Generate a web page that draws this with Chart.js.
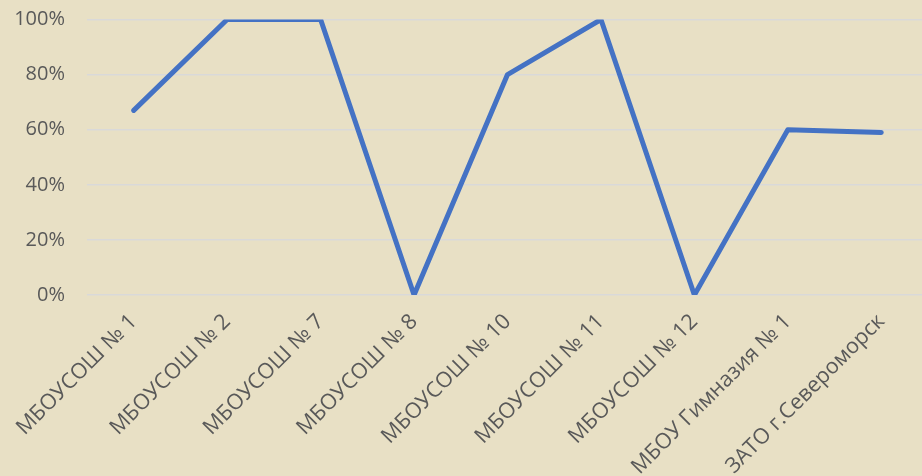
<!DOCTYPE html>
<html>
<head>
<meta charset="utf-8">
<script src="https://cdn.jsdelivr.net/npm/chart.js@4"></script>
<style>
  html, body { margin: 0; padding: 0; background: #E8E0C5; overflow: hidden; }
  #wrap { width: 928px; height: 476px; }
</style>
</head>
<body>
<div id="wrap"><canvas id="chart" width="928" height="476"></canvas></div>
<script>
const schools = [
  "МБОУСОШ № 1",
  "МБОУСОШ № 2",
  "МБОУСОШ № 7",
  "МБОУСОШ № 8",
  "МБОУСОШ № 10",
  "МБОУСОШ № 11",
  "МБОУСОШ № 12",
  "МБОУ Гимназия № 1",
  "ЗАТО г.Североморск",
];
const shares = [67, 100, 100, 0, 80, 100, 0, 60, 59];
const yTicks = [0, 20, 40, 60, 80, 100];

const textColor = "#595959";
const fontFamily = "Open Sans";

const ctx = document.getElementById("chart").getContext("2d");

new Chart(ctx, {
  type: "line",
  data: {
    labels: schools,
    datasets: [
      {
        data: shares,
        borderColor: "#4472C4",
        borderWidth: 5,
        borderCapStyle: "round",
        borderJoinStyle: "round",
        pointRadius: 0,
        tension: 0,
        fill: false,
      },
    ],
  },
  options: {
    responsive: false,
    animation: false,
    layout: {
      padding: { top: 19.5, right: 0, bottom: 0, left: 0 },
    },
    plugins: {
      legend: { display: false },
      tooltip: { enabled: false },
    },
    scales: {
      x: {
        offset: true,
        grid: { display: false, drawTicks: false },
        border: { display: false },
        ticks: {
          color: textColor,
          minRotation: 45,
          maxRotation: 45,
          autoSkip: false,
          padding: 14,
          font: { size: 21.5, family: fontFamily },
        },
        afterFit: (axis) => {
          axis.height = 181;
          axis.paddingLeft = 0;
          axis.paddingRight = 0;
        },
      },
      y: {
        min: 0,
        max: 100,
        afterBuildTicks: (axis) => {
          axis.ticks = yTicks.map((v) => ({ value: v }));
        },
        grid: {
          color: "#D9D9D9",
          lineWidth: 1.5,
          drawTicks: false,
        },
        border: { display: false },
        ticks: {
          color: textColor,
          padding: 22,
          font: { size: 20, family: fontFamily },
          callback: (v) => v + "%",
        },
        afterFit: (axis) => {
          axis.width = 87;
          axis.paddingTop = 0;
          axis.paddingBottom = 0;
        },
      },
    },
  },
});
</script>
</body>
</html>
